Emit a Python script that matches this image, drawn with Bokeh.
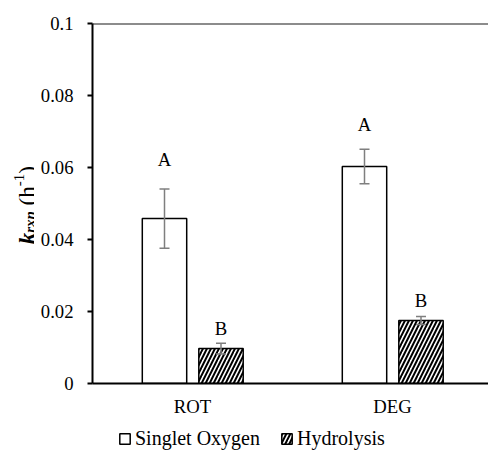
from math import pi
from bokeh.plotting import figure
from bokeh.layouts import column, row
from bokeh.models import (ColumnDataSource, Range1d, FixedTicker, Whisker, TeeHead,
                          Legend, LegendItem, Label, Span)
from bokeh.transform import dodge
from bokeh.core.properties import value
from bokeh.embed import file_html
from bokeh.resources import INLINE

# ---- data ----
categories = ["ROT", "DEG"]
series_names = ["Singlet Oxygen", "Hydrolysis"]
singlet = [0.0458, 0.0603]
singlet_err = [0.0082, 0.0048]
hydrolysis = [0.0097, 0.0175]
hydrolysis_err = [0.0015, 0.0011]
singlet_letters = ["A", "A"]
singlet_letter_y = [0.0622, 0.0719]
hydro_letters = ["B", "B"]
hydro_letter_y = [0.0153, 0.0231]
ytick_values = [0, 0.02, 0.04, 0.06, 0.08, 0.1]
ytick_labels = ["0", "0.02", "0.04", "0.06", "0.08", "0.1"]

FONT = "Liberation Serif"
x_pos = [i + 0.5 for i in range(len(categories))]

S_STYLE = dict(fill_color="white", line_color="black", line_width=1.5)
H_STYLE = dict(fill_color="white", line_color="black", line_width=1.5,
               hatch_pattern="/", hatch_color="black", hatch_scale=8, hatch_weight=2.0)

src_s = ColumnDataSource(dict(
    x=x_pos, top=singlet,
    upper=[v + e for v, e in zip(singlet, singlet_err)],
    lower=[v - e for v, e in zip(singlet, singlet_err)],
    letter=singlet_letters, ly=singlet_letter_y))
src_h = ColumnDataSource(dict(
    x=x_pos, top=hydrolysis,
    upper=[v + e for v, e in zip(hydrolysis, hydrolysis_err)],
    lower=[v - e for v, e in zip(hydrolysis, hydrolysis_err)],
    letter=hydro_letters, ly=hydro_letter_y))

STRIP_W = 34

# ---------------- main chart ----------------
p = figure(width=488 - STRIP_W, height=420, output_backend="svg", toolbar_location=None,
           x_range=Range1d(0, 1.98), y_range=Range1d(0, 0.1),
           min_border_left=92 - STRIP_W, min_border_right=0, min_border_top=23,
           min_border_bottom=37)
p.outline_line_color = None
p.xgrid.visible = False
p.ygrid.visible = False

OFF_S, OFF_H, W = -0.14, 0.1425, 0.222

p.vbar(x=dodge("x", OFF_S), top="top", width=W, source=src_s, **S_STYLE)
p.vbar(x=dodge("x", OFF_H), top="top", width=W, source=src_h, **H_STYLE)

for src, off in ((src_s, OFF_S), (src_h, OFF_H)):
    w = Whisker(base=dodge("x", off), upper="upper", lower="lower", source=src,
                level="overlay", line_color="#7f7f7f", line_width=1.5,
                upper_head=TeeHead(size=10, line_color="#7f7f7f", line_width=1.5),
                lower_head=TeeHead(size=10, line_color="#7f7f7f", line_width=1.5))
    p.add_layout(w)
    p.text(x=dodge("x", off), y="ly", text="letter", source=src,
           text_align="center", text_baseline="middle",
           text_font=value(FONT), text_font_size="18.7px", text_color="black")

p.add_layout(Span(location=0.1, dimension="width", line_color="#1a1a1a", line_width=2))

p.xaxis.ticker = FixedTicker(ticks=x_pos)
p.xaxis.major_label_overrides = {x: c for x, c in zip(x_pos, categories)}
p.xaxis.major_tick_line_color = None
p.xaxis.minor_tick_line_color = None
p.xaxis.axis_line_width = 2
p.xaxis.axis_line_color = "black"
p.xaxis.major_label_standoff = 6
p.xaxis.major_label_text_font = FONT
p.xaxis.major_label_text_font_size = "18.7px"
p.xaxis.major_label_text_color = "black"

p.yaxis.ticker = FixedTicker(ticks=ytick_values)
p.yaxis.major_label_overrides = {v: l for v, l in zip(ytick_values, ytick_labels)}
p.yaxis.minor_tick_line_color = None
p.yaxis.major_tick_in = 0
p.yaxis.major_tick_out = 5
p.yaxis.major_tick_line_width = 2
p.yaxis.major_tick_line_color = "black"
p.yaxis.axis_line_width = 2
p.yaxis.axis_line_color = "black"
p.yaxis.major_label_standoff = 14
p.yaxis.major_label_text_font = FONT
p.yaxis.major_label_text_font_size = "18.7px"
p.yaxis.major_label_text_color = "black"

# ---------------- y-axis title strip ----------------
t = figure(width=STRIP_W, height=420, output_backend="svg", toolbar_location=None,
           x_range=Range1d(0, STRIP_W), y_range=Range1d(0, 420),
           x_axis_location=None, y_axis_location=None,
           min_border=0)
t.outline_line_color = None
t.grid.visible = False

M, S = 23, 15
# (text, size, style, baseline shift, advance incl. following gap)
segs = [
    ("k", M, "bold italic", 0, 0.500 * M),
    ("rxn", S, "bold italic", 2, (0.389 + 0.5 + 0.556) * S + 0.25 * M),
    ("(h", M, "normal", 0, (0.333 + 0.5) * M),
    ("-1", S, "normal", -9, (0.333 + 0.5) * S),
    (")", M, "normal", 0, 0.333 * M),
]
total = sum(s[4] for s in segs)
yo = -total / 2
for txt, size, style, dx, wdt in segs:
    t.add_layout(Label(x=27, y=208, x_offset=dx, y_offset=yo, text=txt,
                       angle=pi / 2, text_font=FONT, text_font_size=f"{size}px",
                       text_font_style=style, text_align="left",
                       text_baseline="alphabetic", text_color="black"))
    yo += wdt

# ---------------- legend strip ----------------
lg = figure(width=488, height=40, output_backend="svg", toolbar_location=None,
            x_range=Range1d(0, 1), y_range=Range1d(0, 1),
            x_axis_location=None, y_axis_location=None, min_border=0)
lg.outline_line_color = None
lg.grid.visible = False
proxy = dict(x=[5], top=[0])   # legend proxies, kept outside the visible range
lr_s = lg.vbar(x="x", top="top", width=0.01, source=ColumnDataSource(proxy), **S_STYLE)
lr_h = lg.vbar(x="x", top="top", width=0.01, source=ColumnDataSource(proxy), **H_STYLE)
legend = Legend(items=[LegendItem(label=series_names[0], renderers=[lr_s]),
                       LegendItem(label=series_names[1], renderers=[lr_h])],
                orientation="horizontal", location=(118, 10),
                glyph_width=13, glyph_height=13, label_standoff=4, spacing=20,
                padding=0, margin=0, border_line_color=None,
                background_fill_alpha=0,
                label_text_font=FONT, label_text_font_size="20px",
                label_text_color="black")
lg.add_layout(legend, "center")

layout = column(row(t, p), lg)
open("out.html", "w").write(file_html(layout, INLINE))
